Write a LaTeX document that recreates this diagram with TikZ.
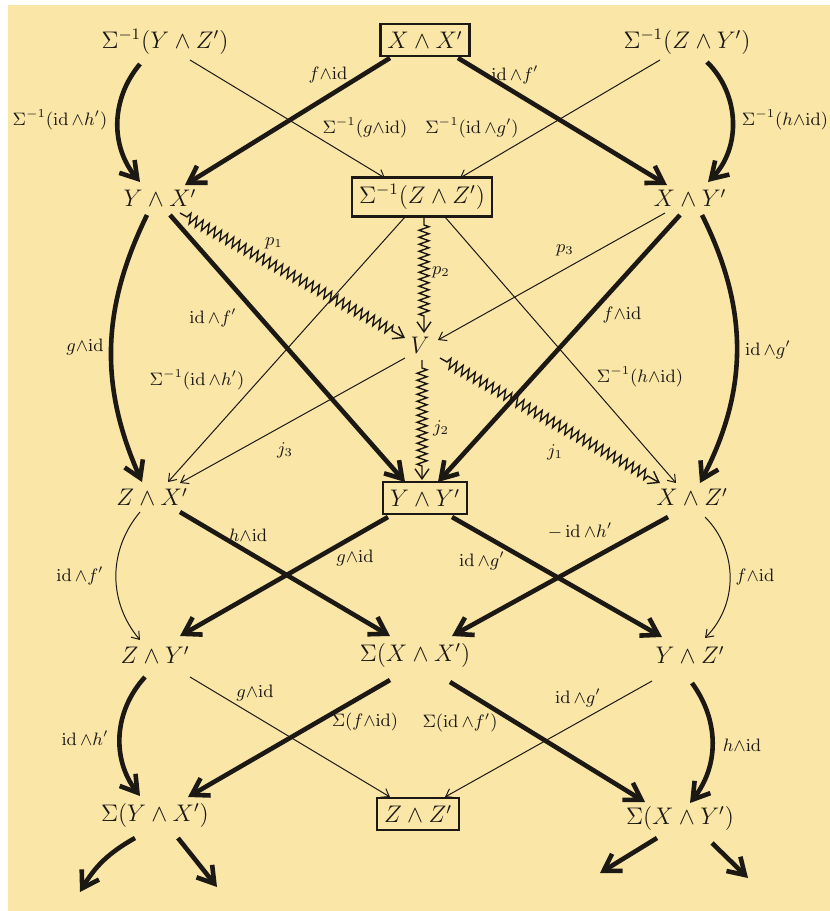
\documentclass[tikz,border=0pt]{standalone}
\usepackage{amsmath,amssymb}
\usepackage{tikz}
\usetikzlibrary{arrows.meta,decorations.pathmorphing}
\definecolor{paper}{RGB}{250,231,168}
\definecolor{ink}{RGB}{28,24,20}
\newcommand{\idmap}{\mathrm{id}}
\newcommand{\sm}{{\wedge}}

\begin{document}
\begin{tikzpicture}[x=0.5pt, y=-0.5pt,
    obj/.style={font=\fontsize{11.5}{13}\selectfont, text=ink, inner sep=3pt},
    boxed/.style={draw=ink, line width=1.1pt, inner sep=3.5pt},
    lab/.style={font=\small, text=ink, inner sep=1pt},
    heavy/.style={draw=ink, line width=2.3pt, -{Straight Barb[length=8pt,width=10pt]}},
    light/.style={draw=ink, line width=0.5pt, -{Straight Barb[length=3.5pt,width=5pt]}},
    wavy/.style={draw=ink, line width=0.7pt, decorate,
      decoration={zigzag, amplitude=2.5pt, segment length=3.5pt, pre length=4pt, post length=7pt},
      -{Straight Barb[length=5pt,width=7pt]}}]
  \useasboundingbox (0,0) rectangle (830,911);
  \fill[white] (0,0) rectangle (830,911);
  \fill[paper] (8,5) rectangle (830,911);

  % objects
  \node[obj] (s1) at (165,42) {$\Sigma^{-1}(Y\wedge Z')$};
  \node[obj,boxed] (xx) at (425,40) {$X\wedge X'$};
  \node[obj] (s2) at (687,42) {$\Sigma^{-1}(Z\wedge Y')$};
  \node[obj] (yx) at (160,198) {$Y\wedge X'$};
  \node[obj,boxed] (szz) at (422,197) {$\Sigma^{-1}(Z\wedge Z')$};
  \node[obj] (xy) at (690,198) {$X\wedge Y'$};
  \node[obj] (v) at (420,345) {$V$};
  \node[obj] (zx) at (152,497) {$Z\wedge X'$};
  \node[obj,boxed] (yy) at (425,498) {$Y\wedge Y'$};
  \node[obj] (xz) at (692,497) {$X\wedge Z'$};
  \node[obj] (zy) at (155,655) {$Z\wedge Y'$};
  \node[obj] (sxx) at (415,655) {$\Sigma(X\wedge X')$};
  \node[obj] (yz) at (690,655) {$Y\wedge Z'$};
  \node[obj] (syx) at (155,815) {$\Sigma(Y\wedge X')$};
  \node[obj,boxed] (zz) at (418,814) {$Z\wedge Z'$};
  \node[obj] (sxy) at (680,818) {$\Sigma(X\wedge Y')$};
  \coordinate (e1) at (80,892);
  \coordinate (e2) at (217,887);
  \coordinate (e3) at (600,873);
  \coordinate (e4) at (748,878);

  % top row down
  \draw[heavy] ([shift={(-25,22)}]s1.center) to[bend right=40] ([shift={(-20,-16)}]yx.center);
  \draw[light] ([shift={(25,18)}]s1.center) -- ([shift={(-37,-19)}]szz.center);
  \draw[heavy] ([shift={(-35,18)}]xx.center) -- ([shift={(25,-13)}]yx.center);
  \draw[heavy] ([shift={(33,18)}]xx.center) -- ([shift={(-23,-13)}]xy.center);
  \draw[light] ([shift={(-27,18)}]s2.center) -- ([shift={(38,-19)}]szz.center);
  \draw[heavy] ([shift={(20,20)}]s2.center) to[bend left=45] ([shift={(18,-16)}]xy.center);

  % into V
  \draw[wavy] ([shift={(20,15)}]yx.center) -- ([shift={(-15,-7)}]v.center);
  \draw[wavy] ([shift={(2,20)}]szz.center) -- ([shift={(4,-12)}]v.center);
  \draw[light] ([shift={(-25,15)}]xy.center) -- ([shift={(18,-5)}]v.center);

  % second row down
  \draw[heavy] ([shift={(-13,17)}]yx.center) to[bend right=25] ([shift={(-10,-15)}]zx.center);
  \draw[heavy] ([shift={(10,17)}]yx.center) -- ([shift={(-20,-16)}]yy.center);
  \draw[light] ([shift={(-17,20)}]szz.center) -- ([shift={(16,-15)}]zx.center);
  \draw[light] ([shift={(23,20)}]szz.center) -- ([shift={(-16,-14)}]xz.center);
  \draw[heavy] ([shift={(-10,17)}]xy.center) -- ([shift={(13,-16)}]yy.center);
  \draw[heavy] ([shift={(12,17)}]xy.center) to[bend left=27] ([shift={(8,-14)}]xz.center);

  % out of V
  \draw[light] ([shift={(-15,13)}]v.center) -- ([shift={(28,-14)}]zx.center);
  \draw[wavy] ([shift={(2,15)}]v.center) -- ([shift={(-3,-18)}]yy.center);
  \draw[wavy] ([shift={(20,13)}]v.center) -- ([shift={(-32,-14)}]xz.center);

  % third row down
  \draw[light] ([shift={(-12,15)}]zx.center) to[bend right=40] ([shift={(-15,-15)}]zy.center);
  \draw[heavy] ([shift={(28,15)}]zx.center) -- ([shift={(-25,-19)}]sxx.center);
  \draw[heavy] ([shift={(-37,19)}]yy.center) -- ([shift={(25,-19)}]zy.center);
  \draw[heavy] ([shift={(27,19)}]yy.center) -- ([shift={(-28,-18)}]yz.center);
  \draw[heavy] ([shift={(-24,20)}]xz.center) -- ([shift={(37,-19)}]sxx.center);
  \draw[light] ([shift={(13,20)}]xz.center) to[bend left=45] ([shift={(15,-17)}]yz.center);

  % fourth row down
  \draw[heavy] ([shift={(-10,22)}]zy.center) to[bend right=40] ([shift={(-15,-19)}]syx.center);
  \draw[light] ([shift={(35,22)}]zy.center) -- ([shift={(-28,-17)}]zz.center);
  \draw[heavy] ([shift={(-25,25)}]sxx.center) -- ([shift={(33,-18)}]syx.center);
  \draw[heavy] ([shift={(35,27)}]sxx.center) -- ([shift={(-35,-16)}]sxy.center);
  \draw[light] ([shift={(-38,26)}]yz.center) -- ([shift={(27,-17)}]zz.center);
  \draw[heavy] ([shift={(2,28)}]yz.center) to[bend left=37] ([shift={(10,-15)}]sxy.center);

  % loose ends
  \draw[heavy] ([shift={(-20,23)}]syx.center) to[bend right=15] (e1);
  \draw[heavy] ([shift={(23,23)}]syx.center) -- (e2);
  \draw[heavy] ([shift={(-23,20)}]sxy.center) -- (e3);
  \draw[heavy] ([shift={(32,25)}]sxy.center) -- (e4);

  % labels
  \node[lab] (l1) at (60,120) {$\Sigma^{-1}(\idmap\,\sm h')$};
  \node[lab] (l2) at (365,128) {$\Sigma^{-1}(g\sm\idmap)$};
  \node[lab] (l3) at (328,75) {$f\sm\idmap$};
  \node[lab] (l4) at (515,75) {$\idmap\,\sm f'$};
  \node[lab] (l5) at (472,128) {$\Sigma^{-1}(\idmap\,\sm g')$};
  \node[lab] (l6) at (785,120) {$\Sigma^{-1}(h\sm\idmap)$};
  \node[lab] (l7) at (274,243) {$p_1$};
  \node[lab] (l8) at (441,272) {$p_2$};
  \node[lab] (l9) at (565,250) {$p_3$};
  \node[lab] (l10) at (85,347) {$g\sm\idmap$};
  \node[lab] (l11) at (213,318) {$\idmap\,\sm f'$};
  \node[lab] (l12) at (197,380) {$\Sigma^{-1}(\idmap\,\sm h')$};
  \node[lab] (l13) at (640,377) {$\Sigma^{-1}(h\sm\idmap)$};
  \node[lab] (l14) at (622,315) {$f\sm\idmap$};
  \node[lab] (l15) at (768,350) {$\idmap\,\sm g'$};
  \node[lab] (l16) at (285,450) {$j_3$};
  \node[lab] (l17) at (441,428) {$j_2$};
  \node[lab] (l18) at (555,452) {$j_1$};
  \node[lab] (l19) at (80,576) {$\idmap\,\sm f'$};
  \node[lab] (l20) at (248,535) {$h\sm\idmap$};
  \node[lab] (l21) at (355,558) {$g\sm\idmap$};
  \node[lab] (l22) at (482,561) {$\idmap\,\sm g'$};
  \node[lab] (l23) at (580,531) {$-\,\idmap\,\sm h'$};
  \node[lab] (l24) at (755,577) {$f\sm\idmap$};
  \node[lab] (l25) at (85,738) {$\idmap\,\sm h'$};
  \node[lab] (l26) at (255,693) {$g\sm\idmap$};
  \node[lab] (l27) at (365,722) {$\Sigma(f\sm\idmap)$};
  \node[lab] (l28) at (460,723) {$\Sigma(\idmap\,\sm f')$};
  \node[lab] (l29) at (578,698) {$\idmap\,\sm g'$};
  \node[lab] (l30) at (742,745) {$h\sm\idmap$};
\end{tikzpicture}
\end{document}
